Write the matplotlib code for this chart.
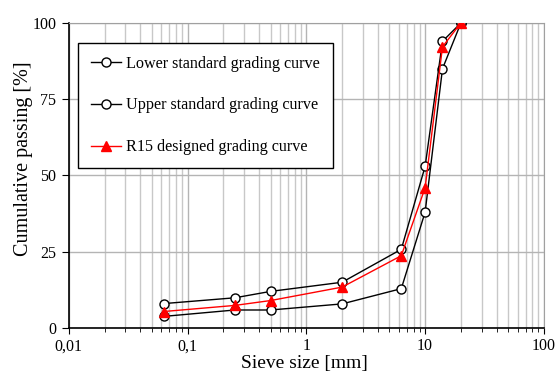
import matplotlib
matplotlib.use("Agg")
import matplotlib.pyplot as plt
from matplotlib.ticker import FixedLocator, LogLocator, NullFormatter

sieve_mm = [0.063, 0.25, 0.5, 2, 6.3, 10, 14, 20]
lower = [3.8, 5.9, 5.9, 7.9, 12.9, 38, 85, 100]
upper = [8, 9.9, 12, 15, 25.8, 53, 94, 100]
r15 = [5.4, 7.4, 9, 13.4, 23.7, 46, 92.2, 100]
xtick_vals = [0.01, 0.1, 1, 10, 100]
xtick_labels = ["0,01", "0,1", "1", "10", "100"]
ytick_vals = [0, 25, 50, 75, 100]

plt.rcParams['font.family'] = ['Liberation Serif', 'DejaVu Serif']

fig = plt.figure(figsize=(5.55, 3.77), dpi=100)
ax = fig.add_axes([0.124, 0.130, 0.856, 0.809])

ax.plot(sieve_mm, lower, color='black', lw=1, marker='o', ms=6.5,
        mfc='white', mec='black', mew=1, label='Lower standard grading curve', zorder=3)
ax.plot(sieve_mm, upper, color='black', lw=1, marker='o', ms=6.5,
        mfc='white', mec='black', mew=1, label='Upper standard grading curve', zorder=3)
ax.plot(sieve_mm, r15, color='red', lw=1, marker='^', ms=6.5,
        mfc='red', mec='red', label='R15 designed grading curve', zorder=4)

ax.set_xscale('log')
ax.set_xlim(0.01, 100)
ax.set_ylim(0, 100)
ax.xaxis.set_major_locator(FixedLocator(xtick_vals))
ax.set_xticklabels(xtick_labels)
ax.xaxis.set_minor_locator(LogLocator(base=10, subs=range(2, 10)))
ax.xaxis.set_minor_formatter(NullFormatter())
ax.set_yticks(ytick_vals)

ax.grid(True, which='major', color='#b4b4b4', lw=1)
ax.grid(True, which='minor', axis='x', color='#c8c8c8', lw=1)
ax.set_axisbelow(True)

for s in ['top', 'right']:
    ax.spines[s].set_color('#a0a0a0')
for s in ['left', 'bottom']:
    ax.spines[s].set_color('black')
    ax.spines[s].set_linewidth(1.2)

ax.tick_params(axis='both', which='major', labelsize=11.5, length=5, direction='out', color='black')
ax.tick_params(axis='x', which='minor', length=3, direction='out', color='black')
ax.tick_params(axis='x', which='major', length=4, pad=3.5)
ax.tick_params(axis='y', which='major', pad=4)

ax.set_xlabel('Sieve size [mm]', fontsize=14)
ax.set_ylabel('Cumulative passing [%]', fontsize=14.5)
ax.xaxis.set_label_coords(0.495, -0.09)
ax.yaxis.set_label_coords(-0.076, 0.554)

leg = ax.legend(loc='upper left', bbox_to_anchor=(0.019, 0.935), fontsize=11.6,
                frameon=True, fancybox=False, edgecolor='black', framealpha=1,
                labelspacing=1.6, handlelength=1.9, handletextpad=0.3,
                borderpad=0.8, borderaxespad=0)
leg.get_frame().set_linewidth(1)

fig.savefig('out.png', dpi=100)
